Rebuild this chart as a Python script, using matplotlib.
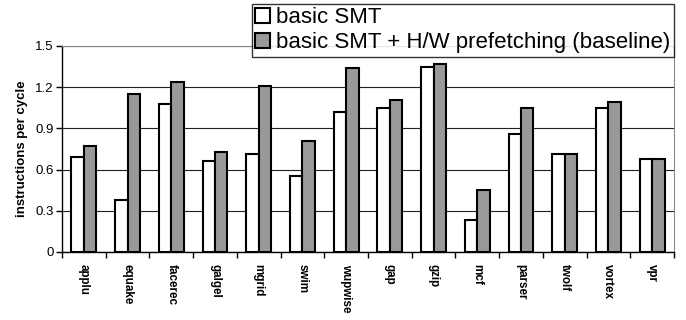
import numpy as np
import matplotlib
matplotlib.use("Agg")
import matplotlib.pyplot as plt
from matplotlib.ticker import FixedLocator

plt.rcParams['font.family'] = ['Liberation Sans', 'DejaVu Sans']

benchmarks = ["applu", "equake", "facerec", "galgel", "mgrid", "swim", "wupwise",
              "gap", "gzip", "mcf", "parser", "twolf", "vortex", "vpr"]
basic_smt = [0.69, 0.38, 1.08, 0.66, 0.71, 0.55, 1.02, 1.05, 1.35, 0.23, 0.86, 0.71, 1.05, 0.68]
basic_smt_prefetch = [0.77, 1.15, 1.24, 0.73, 1.21, 0.81, 1.34, 1.11, 1.37, 0.45, 1.05, 0.71, 1.09, 0.68]
yticks = [0, 0.3, 0.6, 0.9, 1.2, 1.5]

fig = plt.figure(figsize=(6.86, 3.2), dpi=100)
ax = fig.add_axes([62 / 686, 1 - 252 / 320, (674 - 62) / 686, (252 - 46) / 320])

x = np.arange(len(benchmarks))
w = 0.285
ax.bar(x - w / 2, basic_smt, w, color="white", edgecolor="black", linewidth=1.5,
       label="basic SMT", zorder=3)
ax.bar(x + w / 2, basic_smt_prefetch, w, color="#999999", edgecolor="black", linewidth=1.5,
       label="basic SMT + H/W prefetching (baseline)", zorder=3)

ax.set_xlim(-0.5, len(benchmarks) - 0.5)
ax.set_ylim(0, 1.5)
ax.set_yticks(yticks)
ax.set_yticklabels(["0", "0.3", "0.6", "0.9", "1.2", "1.5"], fontsize=9.5)
ax.yaxis.grid(True, color="#222222", linewidth=0.8, zorder=0)

ax.set_xticks(x)
ax.set_xticklabels(benchmarks, rotation=270, fontsize=8.4, fontweight="bold")
ax.tick_params(axis="x", which="major", length=0, pad=9)
ax.xaxis.set_minor_locator(FixedLocator(np.arange(-0.5, len(benchmarks), 1)))
ax.tick_params(axis="x", which="minor", length=4, width=1, direction="out")
ax.tick_params(axis="y", length=4, width=1, direction="out", pad=2)

ax.spines["top"].set_color("#888888")
ax.spines["top"].set_zorder(4)
ax.spines["right"].set_color("#888888")
ax.spines["left"].set_linewidth(1)
ax.spines["bottom"].set_linewidth(1)

ax.set_ylabel("instructions per cycle", fontsize=9.5, fontweight="bold", labelpad=5)

leg = fig.legend(loc="upper right", bbox_to_anchor=(674 / 686, 1 - 4 / 320),
                 fontsize=16, frameon=True, fancybox=False, edgecolor="black",
                 handlelength=0.65, handleheight=0.65, handletextpad=0.3,
                 borderpad=0.15, labelspacing=0.18, borderaxespad=0)
leg.get_frame().set_linewidth(1)

plt.savefig("out.png", dpi=100)
